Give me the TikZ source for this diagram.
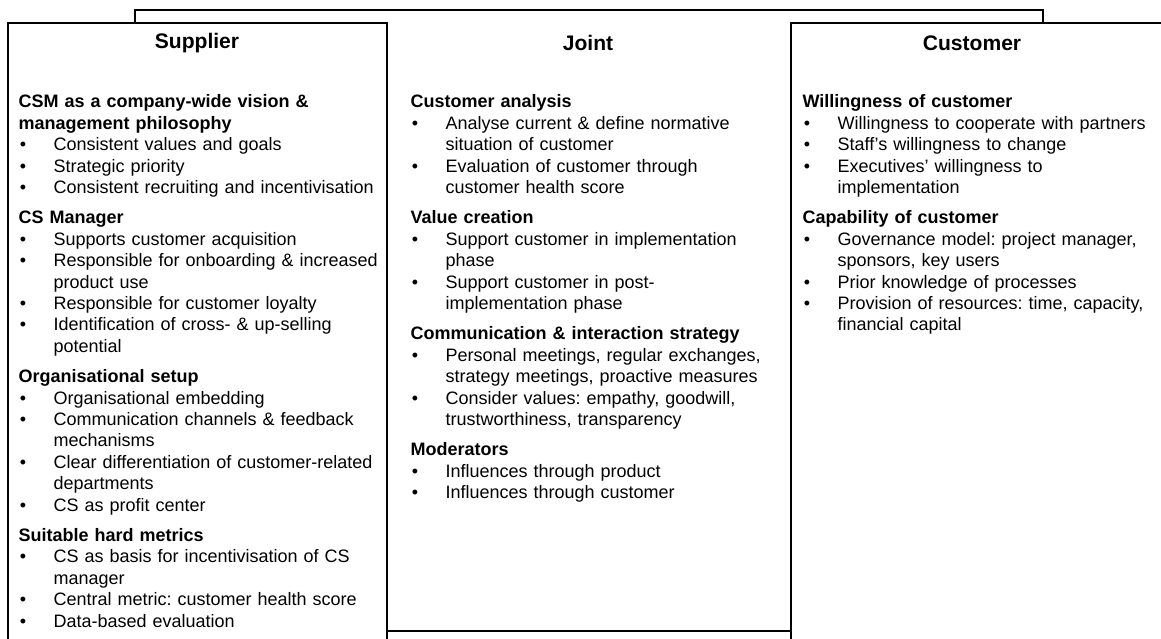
\documentclass[tikz,border=0pt]{standalone}
\usepackage{fontspec}
\setmainfont{Liberation Sans}
\usepackage{tikz}
\usetikzlibrary{positioning}

\newcommand{\grouphead}[1]{\par\vspace{6.5pt}\textbf{#1}\par}
\newcommand{\bul}[1]{\hangindent=26.25pt\hangafter=1\noindent\makebox[26.25pt][l]{\hspace{1pt}\textbullet}#1\par}

\begin{document}
\frenchspacing
\begin{tikzpicture}[x=0.75pt, y=-0.75pt, line width=0.9pt,
	panel/.style={draw, fill=white},
	title/.style={font=\bfseries\fontsize{15.8}{18}\selectfont, inner sep=0pt},
	column/.style={anchor=north west, inner sep=0pt, text width=300pt, align=left, font=\fontsize{13.5}{16.1}\selectfont},
]
\useasboundingbox (0,0) rectangle (1161,639);
\clip (0,0) rectangle (1161,639);
% joint frame, half hidden behind the two side panels
\draw (135,10) rectangle (1043,631);
\draw [panel] (8,23) rectangle (387,660);
\draw [panel] (791,23) rectangle (1180,660);
%
\node [title] (supplier) at (197,43) {Supplier};
\node [title] (joint) at (588,43) {Joint};
\node [title] (customer) at (972,43) {Customer};
%
\node [column] (suppliertext) at (18,94) {
\textbf{CSM as a company-wide vision \&\newline management philosophy}\par
\bul{Consistent values and goals}
\bul{Strategic priority}
\bul{Consistent recruiting and incentivisation}
\grouphead{CS Manager}
\bul{Supports customer acquisition}
\bul{Responsible for onboarding \& increased\newline product use}
\bul{Responsible for customer loyalty}
\bul{Identification of cross- \& up-selling\newline potential}
\grouphead{Organisational setup}
\bul{Organisational embedding}
\bul{Communication channels \& feedback\newline mechanisms}
\bul{Clear differentiation of customer-related\newline departments}
\bul{CS as profit center}
\grouphead{Suitable hard metrics}
\bul{CS as basis for incentivisation of CS\newline manager}
\bul{Central metric: customer health score}
\bul{Data-based evaluation}};
\node [column] (jointtext) at (410,94) {
\textbf{Customer analysis}\par
\bul{Analyse current \& define normative\newline situation of customer}
\bul{Evaluation of customer through\newline customer health score}
\grouphead{Value creation}
\bul{Support customer in implementation\newline phase}
\bul{Support customer in post-\newline implementation phase}
\grouphead{Communication \& interaction strategy}
\bul{Personal meetings, regular exchanges,\newline strategy meetings, proactive measures}
\bul{Consider values: empathy, goodwill,\newline trustworthiness, transparency}
\grouphead{Moderators}
\bul{Influences through product}
\bul{Influences through customer}};
\node [column] (customertext) at (802,94) {
\textbf{Willingness of customer}\par
\bul{Willingness to cooperate with partners}
\bul{Staff’s willingness to change}
\bul{Executives’ willingness to\newline implementation}
\grouphead{Capability of customer}
\bul{Governance model: project manager,\newline sponsors, key users}
\bul{Prior knowledge of processes}
\bul{Provision of resources: time, capacity,\newline financial capital}};
\end{tikzpicture}
\end{document}
